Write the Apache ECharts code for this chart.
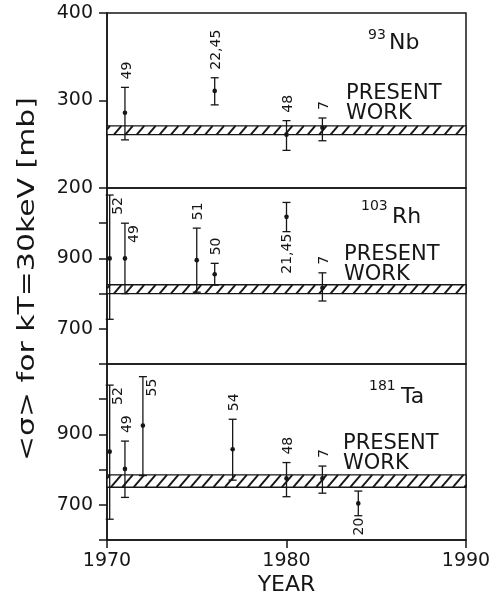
<!DOCTYPE html>
<html>
<head>
<meta charset="utf-8">
<script src="https://cdn.jsdelivr.net/npm/echarts@6/dist/echarts.min.js"></script>
<style>
  html, body { margin: 0; padding: 0; background: #fff; }
  #chart { width: 496px; height: 598px; }
</style>
</head>
<body>
<div id="chart"></div>
<script>
// Maxwellian-averaged cross sections at kT = 30 keV, earlier measurements by year.
// Each point: year, value, lower and upper error limits [mb], reference number.
const nbYears  = [1971, 1976, 1980, 1982];
const nbValues = [286, 311, 261, 269];
const nbLow    = [255, 295, 243, 254];
const nbHigh   = [315, 326, 277, 280];
const nbRefs   = ['49', '22,45', '48', '7'];
const nbBand   = [261, 271];          // present work, lower/upper

const rhYears  = [1970.15, 1971, 1975, 1976, 1980, 1982];
const rhValues = [900, 900, 895, 855, 1018, 816];
const rhLow    = [727, 800, 804, 824, 976, 779];
const rhHigh   = [1080, 1000, 986, 886, 1059, 859];
const rhRefs   = ['52', '49', '51', '50', '21,45', '7'];
const rhBand   = [800, 825];

const taYears  = [1970.15, 1971, 1972, 1977, 1980, 1982, 1984];
const taValues = [851, 802, 925, 858, 775, 775, 704];
const taLow    = [659, 721, 783, 770, 723, 733, 669];
const taHigh   = [1040, 881, 1064, 943, 820, 810, 739];
const taRefs   = ['52', '49', '55', '54', '48', '7', '20'];
const taBand   = [750, 785];

const yearTicks = [1970, 1980, 1990];
const nbTickLabels = [200, 300, 400];
const heavyTickLabels = [700, 900];

// where each reference number sits relative to its error bar
const nbPlace = ['top', 'top', 'top', 'top'];
const rhPlace = ['right', 'right', 'top', 'top', 'bottom', 'top'];
const taPlace = ['right', 'top', 'right', 'top', 'top', 'top', 'bottom'];

const INK = '#161616';
const FONT = 'DejaVu Sans';

const panels = [
  { name: 'Nb', mass: '93',  years: nbYears, values: nbValues, low: nbLow, high: nbHigh, refs: nbRefs, band: nbBand, place: nbPlace,
    yMin: 200, yMax: 400, labels: nbTickLabels, top: 13, height: 175 },
  { name: 'Rh', mass: '103', years: rhYears, values: rhValues, low: rhLow, high: rhHigh, refs: rhRefs, band: rhBand, place: rhPlace,
    yMin: 600, yMax: 1100, labels: heavyTickLabels, top: 188, height: 176 },
  { name: 'Ta', mass: '181', years: taYears, values: taValues, low: taLow, high: taHigh, refs: taRefs, band: taBand, place: taPlace,
    yMin: 600, yMax: 1100, labels: heavyTickLabels, top: 364, height: 176 }
];

function hatchBand(params, api) {
  const cs = params.coordSys;
  const x0 = cs.x, x1 = cs.x + cs.width;
  const yb = api.coord([yearTicks[0], api.value(0)])[1];
  const yt = api.coord([yearTicks[0], api.value(1)])[1];
  const h = yb - yt;
  const dx = h * 0.85, step = 11.4;
  const children = [
    { type: 'rect', shape: { x: x0, y: yt, width: x1 - x0, height: h },
      style: { fill: '#fff', stroke: INK, lineWidth: 1.4 } }
  ];
  for (let k = x0 - dx + 3; k < x1; k += step) {
    let sx = k, sy = yb, ex = k + dx, ey = yt;
    if (sx < x0) { const t = (x0 - k) / dx; sx = x0; sy = yb - t * h; }
    if (ex > x1) { const t = (x1 - k) / dx; ex = x1; ey = yb - t * h; }
    if (ex <= sx) continue;
    children.push({ type: 'line', shape: { x1: sx, y1: sy, x2: ex, y2: ey },
      style: { stroke: INK, lineWidth: 1.9 } });
  }
  return { type: 'group', children };
}

function errorBars(panel) {
  return function (params, api) {
    const yr = api.value(0);
    const p  = api.coord([yr, api.value(1)]);
    const lo = api.coord([yr, api.value(2)]);
    const hi = api.coord([yr, api.value(3)]);
    const cap = 4;
    const ls = { stroke: INK, lineWidth: 1.3 };
    const children = [
      { type: 'line', shape: { x1: p[0], y1: hi[1], x2: p[0], y2: lo[1] }, style: ls },
      { type: 'line', shape: { x1: p[0] - cap, y1: hi[1], x2: p[0] + cap, y2: hi[1] }, style: ls },
      { type: 'line', shape: { x1: p[0] - cap, y1: lo[1], x2: p[0] + cap, y2: lo[1] }, style: ls },
      { type: 'circle', shape: { cx: p[0], cy: p[1], r: 2.3 }, style: { fill: INK } }
    ];
    const where = panel.place[params.dataIndex];
    let tx, ty, align;
    if (where === 'top') { tx = p[0] + 2; ty = hi[1] - 8; align = 'left'; }
    else if (where === 'bottom') { tx = p[0] + 1; ty = lo[1] + 2; align = 'right'; }
    else { tx = p[0] + 9; ty = hi[1] + 2; align = 'right'; }
    children.push({
      type: 'text', x: tx, y: ty, rotation: Math.PI / 2,
      style: { text: panel.refs[params.dataIndex], fill: INK, font: '14px "' + FONT + '"',
               align: align, verticalAlign: 'middle', textAlign: align, textVerticalAlign: 'middle' }
    });
    return { type: 'group', children };
  };
}

const grid = [], xAxis = [], yAxis = [], series = [], graphic = [];

panels.forEach((pn, i) => {
  const last = i === panels.length - 1;
  grid.push({ left: 107, right: 30, top: pn.top, height: pn.height, show: true,
              borderColor: INK, borderWidth: 1.5, backgroundColor: 'transparent' });
  xAxis.push({
    type: 'value', gridIndex: i, min: yearTicks[0], max: yearTicks[yearTicks.length - 1], interval: 10,
    show: last,
    axisLine: { show: true, lineStyle: { color: INK, width: 1.5 } },
    axisTick: { show: true, inside: false, length: 8, lineStyle: { color: INK, width: 1.5 } },
    axisLabel: { show: last, margin: 12, color: INK, fontSize: 19, fontFamily: FONT,
      formatter: v => String(v) },
    splitLine: { show: false },
    name: last ? 'YEAR' : '', nameLocation: 'middle', nameGap: 34,
    nameTextStyle: { color: INK, fontSize: 22, fontFamily: FONT }
  });
  yAxis.push({
    type: 'value', gridIndex: i, min: pn.yMin, max: pn.yMax, interval: 100,
    axisLine: { show: true, lineStyle: { color: INK, width: 1.5 } },
    axisTick: { show: true, inside: false, length: 8, lineStyle: { color: INK, width: 1.5 } },
    axisLabel: { margin: 14, color: INK, fontSize: 19, fontFamily: FONT,
      formatter: v => (pn.labels.indexOf(v) >= 0 ? String(v) : '') },
    splitLine: { show: false }
  });
  series.push({
    type: 'custom', xAxisIndex: i, yAxisIndex: i, z: 2, silent: true,
    data: [[pn.band[0], pn.band[1]]],
    encode: { x: -1, y: [0, 1] },
    renderItem: hatchBand
  });
  series.push({
    type: 'custom', xAxisIndex: i, yAxisIndex: i, z: 3, silent: true,
    data: pn.years.map((y, k) => [y, pn.values[k], pn.low[k], pn.high[k]]),
    encode: { x: 0, y: [1, 2, 3] },
    renderItem: errorBars(pn)
  });
});

// nuclide names with mass numbers, and the "present work" note in each panel
const nuclidePos = [
  { sx: 368, sy: 35, mx: 389, my: 43 },
  { sx: 361, sy: 206, mx: 392, my: 217 },
  { sx: 369, sy: 386, mx: 401, my: 397 }
];
const notePos = [ { x: 346, y: 84 }, { x: 344, y: 245 }, { x: 343, y: 434 } ];

panels.forEach((pn, i) => {
  const np = nuclidePos[i];
  graphic.push({ type: 'text', x: np.sx, y: np.sy,
    style: { text: pn.mass, fill: INK, font: '14px "' + FONT + '"',
             align: 'left', verticalAlign: 'middle', textAlign: 'left', textVerticalAlign: 'middle' } });
  graphic.push({ type: 'text', x: np.mx, y: np.my,
    style: { text: pn.name, fill: INK, font: '22px "' + FONT + '"',
             align: 'left', verticalAlign: 'middle', textAlign: 'left', textVerticalAlign: 'middle' } });
  const tp = notePos[i];
  graphic.push({ type: 'text', x: tp.x, y: tp.y,
    style: { text: 'PRESENT\nWORK', fill: INK, font: '21px "' + FONT + '"', lineHeight: 20,
             align: 'left', verticalAlign: 'top', textAlign: 'left', textVerticalAlign: 'top' } });
});

// shared y-axis title, stretched along its reading direction
graphic.push({ type: 'text', x: 28, y: 279, rotation: Math.PI / 2, scaleX: 1.3,
  style: { text: '<σ> for kT=30keV [mb]', fill: INK, font: '23px "' + FONT + '"',
           align: 'center', verticalAlign: 'middle', textAlign: 'center', textVerticalAlign: 'middle' } });

const chart = echarts.init(document.getElementById('chart'), null, { renderer: 'canvas' });
chart.setOption({
  animation: false,
  backgroundColor: '#fff',
  grid, xAxis, yAxis, series, graphic
});
</script>
</body>
</html>
